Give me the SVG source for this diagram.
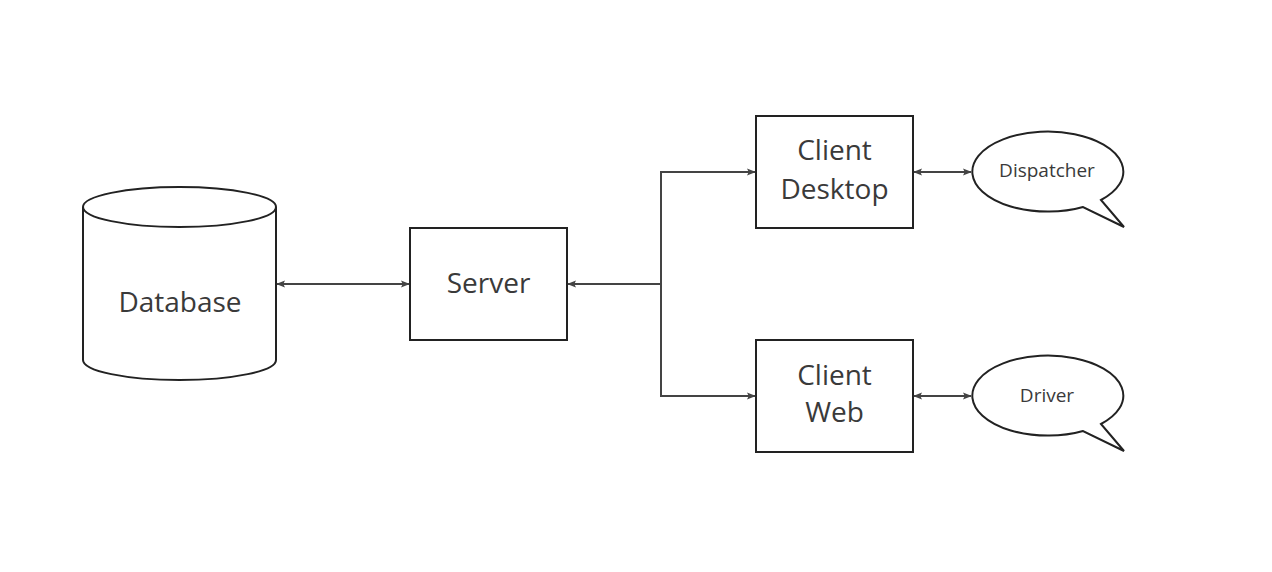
<svg xmlns="http://www.w3.org/2000/svg" width="1272" height="572" viewBox="0 0 1272 572">
<style>
.shape{fill:#fff;stroke:#222;stroke-width:2}
.lbl{font-family:"Open Sans","Liberation Sans",sans-serif;fill:#3a3a3a;text-anchor:middle}
.big{font-size:28px}
.small{font-size:19px}
.conn{fill:none;stroke:#444;stroke-width:2}
</style>
<defs>
<marker id="ah" viewBox="0 0 10 10" refX="9" refY="5" markerWidth="9" markerHeight="9" markerUnits="userSpaceOnUse" orient="auto-start-reverse">
<path d="M0,1 L10,5 L0,9 L2,5 Z" fill="#444"/>
</marker>
</defs>
<rect width="1272" height="572" fill="#fff"/>
<g id="database">
<path class="shape" d="M83,207 L83,360 A96.5,20 0 0 0 276,360 L276,207"/>
<ellipse class="shape" cx="179.5" cy="207" rx="96.5" ry="20"/>
<text class="lbl big" x="180" y="312">Database</text>
</g>
<g id="server">
<rect class="shape" x="410" y="228" width="157" height="112"/>
<text class="lbl big" x="488.5" y="293">Server</text>
</g>
<g id="client-desktop">
<rect class="shape" x="756" y="116" width="157" height="112"/>
<text class="lbl big" x="834.5" y="160">Client</text>
<text class="lbl big" x="834.5" y="199">Desktop</text>
</g>
<g id="client-web">
<rect class="shape" x="756" y="340" width="157" height="112"/>
<text class="lbl big" x="834.5" y="385">Client</text>
<text class="lbl big" x="834.5" y="422">Web</text>
</g>
<g id="dispatcher">
<path class="shape" d="M1083,207 A75.5,40 0 1 1 1101,200 L1124,227 Z"/>
<text class="lbl small" x="1047" y="177">Dispatcher</text>
</g>
<g id="driver">
<path class="shape" d="M1083,431 A75.5,40 0 1 1 1101,424 L1124,451 Z"/>
<text class="lbl small" x="1047" y="402">Driver</text>
</g>
<g id="connectors">
<line class="conn" x1="277" y1="284" x2="409" y2="284" marker-start="url(#ah)" marker-end="url(#ah)"/>
<line class="conn" x1="661" y1="284" x2="568" y2="284" marker-end="url(#ah)"/>
<path class="conn" d="M755,172 L661,172 L661,396 L755,396" marker-start="url(#ah)" marker-end="url(#ah)"/>
<line class="conn" x1="914" y1="172" x2="971" y2="172" marker-start="url(#ah)" marker-end="url(#ah)"/>
<line class="conn" x1="914" y1="396" x2="971" y2="396" marker-start="url(#ah)" marker-end="url(#ah)"/>
</g>
</svg>
